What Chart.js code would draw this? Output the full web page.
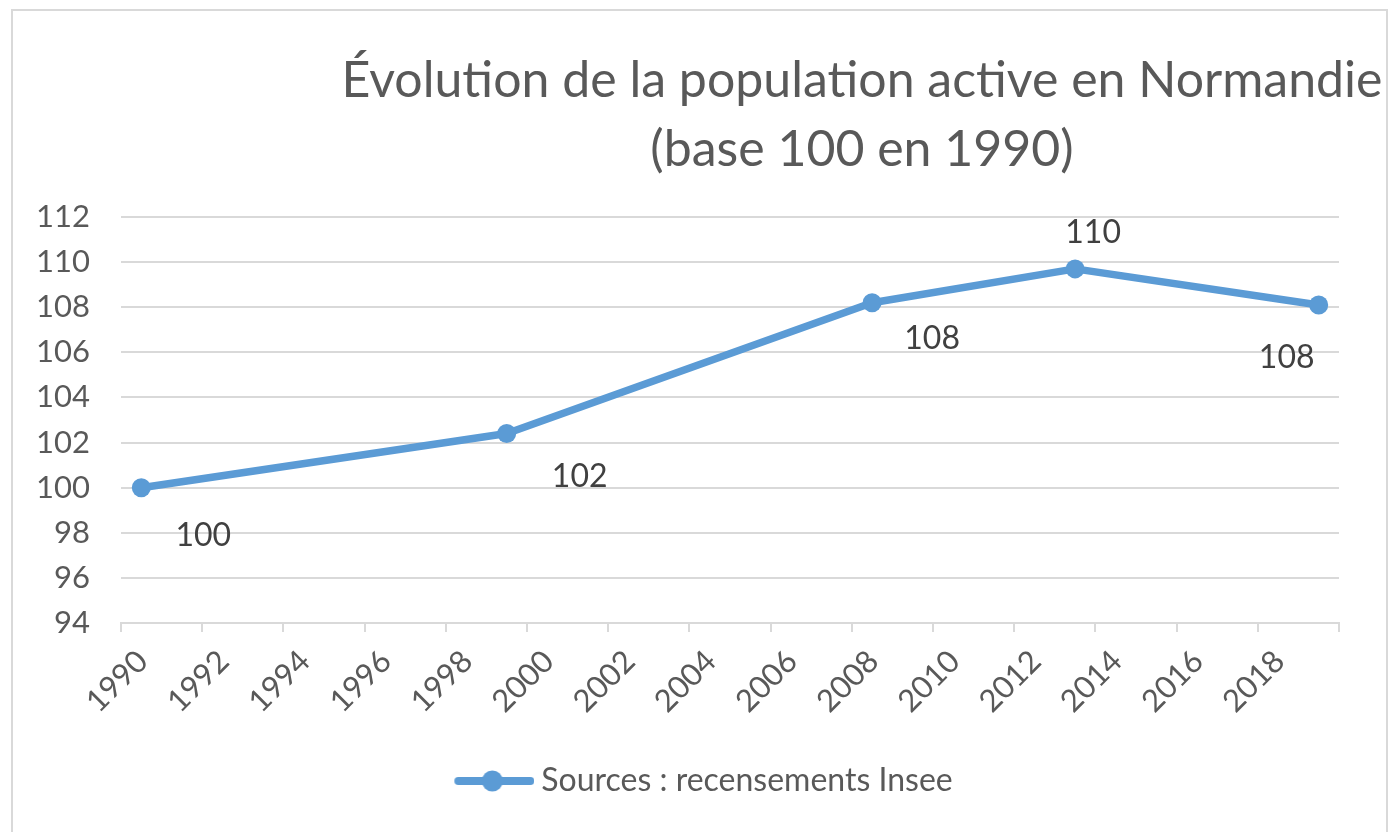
<!DOCTYPE html>
<html><head><meta charset="utf-8">
<script src="https://cdn.jsdelivr.net/npm/chart.js@4/dist/chart.umd.min.js"></script>
<style>html,body{margin:0;padding:0;background:#fff;overflow:hidden}</style>
</head><body>
<canvas id="c" width="1397" height="832"></canvas>
<script>
// ---- data ----
const years = [1990, 1999, 2008, 2013, 2019];
const values = [100, 102.4, 108.2, 109.7, 108.1];
const xTickYears = [1990, 1992, 1994, 1996, 1998, 2000, 2002, 2004, 2006, 2008, 2010, 2012, 2014, 2016, 2018];
const xTickLabels = ['1990','1992','1994','1996','1998','2000','2002','2004','2006','2008','2010','2012','2014','2016','2018'];
const yMin = 94, yMax = 112, yStep = 2;
const titleLines = ['Évolution de la population active en Normandie', '(base 100 en 1990)'];
const seriesLabel = 'Sources : recensements Insee';

// ---- style ----
const FONT = "Lato, 'Open Sans', sans-serif";
const BLUE = '#5b9bd5';
const TEXT = '#595959';
const GRID = '#d9d9d9';
const labelOffsets = [[62,48],[73,43],[60,36],[18,-36],[-32,53]];

// legend marker: line with a circle (left part of the image is blank spacing)
const marker = document.createElement('canvas');
marker.width = 137; marker.height = 26;
(function(){
  const m = marker.getContext('2d');
  m.strokeStyle = BLUE; m.lineWidth = 8; m.lineCap = 'round';
  m.beginPath(); m.moveTo(61,13); m.lineTo(133,13); m.stroke();
  m.fillStyle = BLUE; m.beginPath(); m.arc(95,13,10.5,0,Math.PI*2); m.fill();
})();

const framePlugin = {
  id: 'frame',
  beforeDraw(chart) {
    const ctx = chart.ctx;
    ctx.save();
    ctx.fillStyle = '#fff';
    ctx.fillRect(0,0,chart.width,chart.height);
    ctx.strokeStyle = GRID; ctx.lineWidth = 2;
    ctx.strokeRect(12,10,1375,840);
    ctx.restore();
  }
};
const titlePlugin = {
  id: 'customTitle',
  afterDraw(chart) {
    const ctx = chart.ctx;
    ctx.save();
    ctx.fillStyle = TEXT;
    ctx.font = '50px ' + FONT;
    ctx.textAlign = 'center';
    ctx.textBaseline = 'alphabetic';
    ctx.fillText(titleLines[0], 862, 97);
    ctx.fillText(titleLines[1], 862, 166);
    ctx.restore();
  }
};
const dataLabelPlugin = {
  id: 'valueLabels',
  afterDatasetsDraw(chart) {
    const ctx = chart.ctx;
    const meta = chart.getDatasetMeta(0);
    ctx.save();
    ctx.fillStyle = '#404040';
    ctx.font = '32px ' + FONT;
    ctx.textAlign = 'center';
    ctx.textBaseline = 'middle';
    meta.data.forEach((pt, i) => {
      const o = labelOffsets[i];
      ctx.fillText(String(Math.round(values[i])), pt.x + o[0], pt.y + o[1]);
    });
    ctx.restore();
  }
};

new Chart(document.getElementById('c'), {
  type: 'line',
  data: {
    datasets: [{
      label: seriesLabel,
      data: years.map((y, i) => ({x: y, y: values[i]})),
      borderColor: BLUE,
      backgroundColor: BLUE,
      borderWidth: 7.5,
      borderJoinStyle: 'round',
      borderCapStyle: 'round',
      pointRadius: 9.5,
      pointBackgroundColor: BLUE,
      pointBorderWidth: 0,
      tension: 0,
      clip: false
    }]
  },
  options: {
    responsive: false,
    animation: false,
    events: [],
    layout: { padding: { left: 20, right: 58, top: 217, bottom: 25 } },
    scales: {
      x: {
        type: 'linear',
        min: 1989.5, max: 2019.5,
        afterBuildTicks: s => { s.ticks = xTickYears.map(v => ({ value: v + 0.5 })); },
        afterFit: s => { s.height = 132; },
        ticks: {
          autoSkip: false, minRotation: 45, maxRotation: 45,
          callback: (v, i) => xTickLabels[i],
          color: TEXT, font: { family: FONT, size: 31 }, padding: 11, labelOffset: -19
        },
        grid: { offset: true, drawOnChartArea: false, drawTicks: true, tickLength: 9, color: GRID, lineWidth: 2 },
        border: { display: true, color: GRID, width: 2 }
      },
      y: {
        min: yMin, max: yMax,
        afterFit: s => { s.width = 101; },
        ticks: { stepSize: yStep, color: TEXT, font: { family: FONT, size: 31 }, padding: 31 },
        grid: { color: GRID, lineWidth: 2, drawTicks: false },
        border: { display: false }
      }
    },
    plugins: {
      title: { display: false },
      tooltip: { enabled: false },
      legend: {
        position: 'bottom',
        labels: {
          usePointStyle: true, pointStyle: marker, pointStyleWidth: 119,
          color: TEXT, font: { family: FONT, size: 32 }, padding: 10
        }
      }
    }
  },
  plugins: [framePlugin, titlePlugin, dataLabelPlugin]
});
</script>
</body></html>
